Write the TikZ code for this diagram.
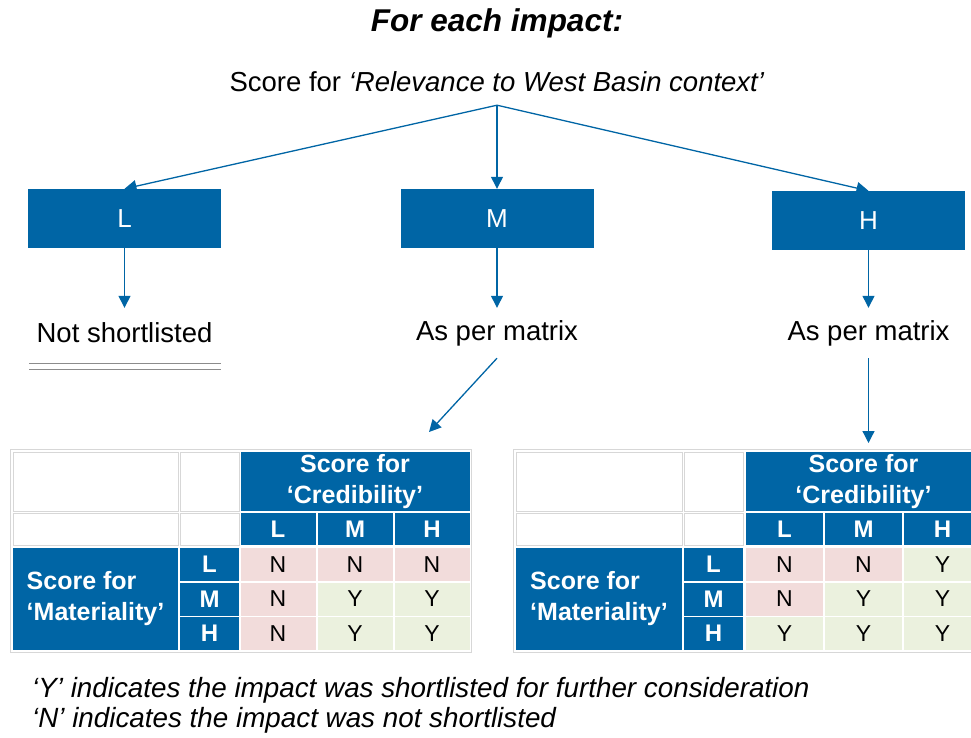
\documentclass[tikz,border=0pt]{standalone}
\usepackage{fontspec}
\setmainfont{Liberation Sans}
\usetikzlibrary{arrows.meta}

\definecolor{wbblue}{RGB}{0,101,165}
\definecolor{noc}{RGB}{242,220,219}
\definecolor{yesc}{RGB}{235,241,222}
\definecolor{rulegrey}{RGB}{215,215,215}

\tikzstyle{flowbox} = [fill=wbblue, text=white, minimum width=193bp, minimum height=59bp, inner sep=0pt, font=\fontsize{26bp}{30bp}\selectfont]
\tikzstyle{flowtext} = [minimum height=50bp, inner sep=0pt, font=\fontsize{27.5bp}{33bp}\selectfont]
\tikzstyle{flowarrow} = [draw=wbblue, line width=1.3bp, -{Triangle[length=12bp,width=12bp]}]
\tikzstyle{blankcell} = [draw=rulegrey, line width=0.8bp, inner sep=0pt]
\tikzstyle{headcell} = [fill=wbblue, text=white, inner sep=0pt, align=center, font=\bfseries\fontsize{25bp}{31bp}\selectfont]
\tikzstyle{letterhead} = [headcell, font=\bfseries\fontsize{24bp}{28bp}\selectfont]
\tikzstyle{scorecell} = [inner sep=0pt, minimum height=33bp, font=\fontsize{23bp}{27bp}\selectfont]
\tikzstyle{notetext} = [anchor=west, inner sep=0pt, font=\itshape\fontsize{27.8bp}{30bp}\selectfont]

\begin{document}
\begin{tikzpicture}[x=1bp, y=-1bp]
\clip (0,0) rectangle (971,738);

% question and the three relevance scores
\node[font=\bfseries\itshape\fontsize{31.5bp}{36bp}\selectfont] (title) at (497,23) {For each impact:};
\node[flowtext, minimum height=46bp] (rel) at (497,82) {Score for \textit{‘Relevance to West Basin context’}};

\node[flowbox] (lbox) at (124.5,218.5) {L};
\node[flowbox] (mbox) at (497,218.5) {M};
\node[flowbox] (hbox) at (868.5,220.5) {H};

\node[flowtext] (nots) at (124.5,333) {Not shortlisted};
\node[flowtext] (mmat) at (497,333) {As per matrix};
\node[flowtext] (hmat) at (868.5,333) {As per matrix};

\coordinate (mtip) at (429,432);
\coordinate (htip) at (868.5,443);
\coordinate (ruleL) at (29,366.5);
\coordinate (ruleR) at (221,366.5);

\draw[flowarrow] (rel.south) -- (lbox.north);
\draw[flowarrow] (rel.south) -- (mbox.north);
\draw[flowarrow] (rel.south) -- (hbox.north);
\draw[flowarrow] (lbox.south) -- (nots.north);
\draw[flowarrow] (mbox.south) -- (mmat.north);
\draw[flowarrow] (hbox.south) -- (hmat.north);
\draw[flowarrow] (mmat.south) -- (mtip);
\draw[flowarrow] (hmat.south) -- (htip);
\draw[black!45, line width=0.9bp, double, double distance=5.5bp] (ruleL) -- (ruleR);

% the two materiality / credibility matrices
\foreach \tname/\ca/\wa/\cb/\xo/\dx/\vals in {
  a/95.5/165/209.5/201/77/{N/noc,N/noc,N/noc,N/noc,Y/yesc,Y/yesc,N/noc,Y/yesc,Y/yesc},
  b/599/166/713.5/705.5/79/{N/noc,N/noc,Y/yesc,N/noc,Y/yesc,Y/yesc,Y/yesc,Y/yesc,Y/yesc}}
{
  \pgfmathsetmacro\cw{\dx-2}
  \pgfmathsetmacro\hw{3*\dx-2}
  \node[blankcell, minimum width=\wa bp, minimum height=59bp] (\tname-e1) at (\ca,481.5) {};
  \node[blankcell, minimum width=59bp, minimum height=59bp] (\tname-e2) at (\cb,481.5) {};
  \node[blankcell, minimum width=\wa bp, minimum height=32bp] (\tname-e3) at (\ca,529) {};
  \node[blankcell, minimum width=59bp, minimum height=32bp] (\tname-e4) at (\cb,529) {};
  \node[headcell, minimum width=\hw bp, minimum height=59bp] (\tname-cred) at (\xo+2*\dx,481.5) {Score for\\‘Credibility’};
  \node[headcell, align=left, minimum width=\wa bp, minimum height=102bp] (\tname-mat) at (\ca,599) {Score for\\‘Materiality’};
  \foreach \s [count=\ci] in {L,M,H}
    \node[letterhead, minimum width=\cw bp, minimum height=32bp] (\tname-c\ci) at (\xo+\ci*\dx,529) {\s};
  \foreach \s [count=\ri] in {L,M,H}
    \node[letterhead, minimum width=59bp, minimum height=33bp] (\tname-r\ri) at (\cb,530+34.5*\ri) {\s};
  \foreach \val/\fc [count=\k from 0] in \vals {
    \pgfmathtruncatemacro\ri{div(\k,3)+1}
    \pgfmathtruncatemacro\ci{mod(\k,3)+1}
    \node[scorecell, fill=\fc, minimum width=\cw bp] (\tname-\ri\ci) at (\xo+\ci*\dx,530+34.5*\ri) {\val};
  }
  \draw[blankcell] ([shift={(-2,-2)}]\tname-e1.north west) rectangle ([shift={(2,2)}]\tname-33.south east);
}

% key to the matrix entries
\node[notetext] (ynote) at (32,690) {‘Y’ indicates the impact was shortlisted for further consideration};
\node[notetext] (nnote) at (32,720) {‘N’ indicates the impact was not shortlisted};
\end{tikzpicture}
\end{document}
